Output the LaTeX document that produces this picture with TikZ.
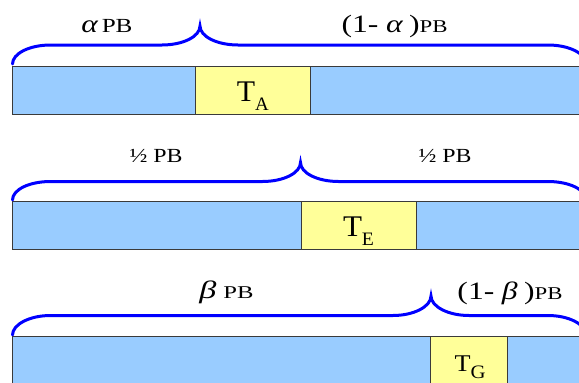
\documentclass[tikz,border=0pt]{standalone}
\usepackage{fontspec}
\usepackage{graphicx}
\setmainfont{Liberation Serif}
\definecolor{barblue}{HTML}{99CCFF}
\definecolor{baryellow}{HTML}{FFFF99}
\definecolor{braceblue}{HTML}{0000FF}
\definecolor{edgegray}{HTML}{3A3A3A}
\newcommand\drawbrace[6]{%
  \draw[bracepath] (#1,#4) .. controls (#1,{#4-10.5}) and ({#1+17},#5) .. ({#1+38},#5)
    -- ({#3-38},#5) .. controls ({#3-17},#5) and (#3,{#6+10.5}) .. (#3,#6)
    .. controls (#3,{#6+10.5}) and ({#3+17},#5) .. ({#3+38},#5)
    -- ({#2-38},#5) .. controls ({#2-17},#5) and (#2,{#4-10.5}) .. (#2,#4);}
\newcommand\bigtxt[1]{{\fontsize{25}{25}\selectfont #1}}
\newcommand\smltxt[1]{{\fontsize{18}{18}\selectfont #1}}
\newcommand\wide[2]{\resizebox{#1pt}{\height}{#2}}
\newcommand\tlab[3]{{\fontsize{#2}{#2}\selectfont T\raisebox{-#3pt}{\fontsize{19}{19}\selectfont #1}}}
\begin{document}
\begin{tikzpicture}[x=1pt,y=-1pt,
  barbox/.style={fill=barblue,draw=edgegray,line width=1pt},
  slotbox/.style={fill=baryellow,draw=edgegray,line width=1pt},
  bracepath/.style={draw=braceblue,line width=3pt,line cap=round},
  lab/.style={anchor=base,inner sep=0pt,font=\fontsize{20}{20}\selectfont}]
\clip (0,0) rectangle (579,383);
\fill[white] (0,0) rectangle (579,383);
% bar 1
\draw[barbox] (12.5,66) rectangle (586,114);
\draw[slotbox] (195,66) rectangle (310.5,114);
\drawbrace{12.5}{586}{200}{64}{45}{26}
\node[lab] (a1) at (107,32) {\wide{51}{\bigtxt{\itshape α}\hspace{3pt}{\fontsize{20}{20}\selectfont PB}}};
\node[lab] (a2) at (394.5,32) {\wide{106}{\bigtxt{(1-\hspace{6pt}{\itshape α}\hspace{5pt})}\smltxt{PB}}};
\node[lab] (ta) at (252.8,101) {\wide{32}{\tlab{A}{30}{9}}};
% bar 2
\draw[barbox] (12.5,201.5) rectangle (586,249.5);
\draw[slotbox] (301,201.5) rectangle (416.5,249.5);
\drawbrace{12.5}{586}{300.5}{200}{181.5}{162.5}
\node[lab] (e1) at (156,162.3) {\wide{53}{½ PB}};
\node[lab] (e2) at (445,162.3) {\wide{53}{½ PB}};
\node[lab] (te) at (358.5,236.7) {\wide{31}{\tlab{E}{30}{9}}};
% bar 3
\draw[barbox] (12.5,336) rectangle (586,384.5);
\draw[slotbox] (430.7,336) rectangle (507.7,384.5);
\drawbrace{12.5}{586}{431}{335}{315.5}{296}
\node[lab] (b1) at (226.5,298) {\wide{54}{\bigtxt{\itshape β}\hspace{5pt}\smltxt{PB}}};
\node[lab] (b2) at (510,299) {\wide{105}{\bigtxt{(1-\hspace{6pt}{\itshape β}\hspace{5pt})}\smltxt{PB}}};
\node[lab] (tg) at (470,371) {\wide{31}{\tlab{G}{24}{7}}};
\end{tikzpicture}
\end{document}
